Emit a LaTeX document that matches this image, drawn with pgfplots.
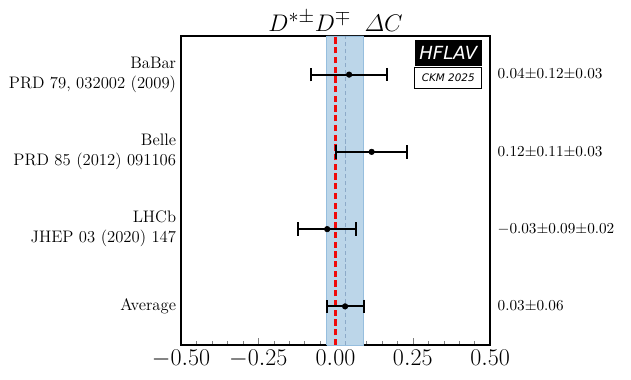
\documentclass[border=0pt]{standalone}
\usepackage{amsmath}
\usepackage{pgfplots}
\pgfplotsset{compat=1.18}
\usepackage{fontspec}
\newfontfamily\dejavu{DejaVu Sans}
\definecolor{bandfill}{RGB}{188,214,233}
\definecolor{bandedge}{RGB}{150,190,222}
\definecolor{avgline}{RGB}{140,170,200}
\definecolor{zeroline}{RGB}{240,10,10}
\begin{document}
\begin{tikzpicture}
\path (0,0) rectangle (454.3pt,272.9pt);
\begin{axis}[
  at={(130.3pt,24.5pt)}, anchor=south west,
  scale only axis, width=222.5pt, height=222.5pt,
  xmin=-0.5, xmax=0.5, ymin=-0.5, ymax=3.5,
  axis line style={line width=0.8pt},
  xtick={-0.5,-0.25,0,0.25,0.5},
  minor x tick num=4,
  xtick pos=bottom, tick align=inside,
  major tick length=5pt, minor tick length=3pt,
  xticklabel style={font=\fontsize{16}{18}\selectfont},
  xticklabel={\pgfmathprintnumber[fixed,fixed zerofill,precision=2]{\tick}},
  ytick={0,1,2,3},
  yticklabels={Average,{LHCb\\JHEP 03 (2020) 147},{Belle\\PRD 85 (2012) 091106},{BaBar\\PRD 79, 032002 (2009)}},
  yticklabel style={align=right,font=\fontsize{12}{14.5}\selectfont},
  ytick style={draw=none},
  title={$D^{*\pm}D^{\mp}\;\;\varDelta C$},
  title style={font=\fontsize{19}{21}\selectfont, yshift=-6pt},
  clip=false,
]
\addplot[fill=bandfill, draw=bandedge, line width=0.6pt] coordinates {(-0.029,-0.5) (0.091,-0.5) (0.091,3.5) (-0.029,3.5) (-0.029,-0.5)};
\addplot[draw=avgline, dash pattern=on 3pt off 2pt, line width=0.8pt, mark=none] coordinates {(0.031,-0.5) (0.031,3.5)};
\addplot[zeroline, line width=2pt, dash pattern=on 4.5pt off 2.5pt, mark=none] coordinates {(0,-0.5) (0,3.5)};
\addplot[black, only marks, mark=*, mark size=2pt,
  error bars/.cd, x dir=both, x explicit,
  error mark=|,
  error bar style={line width=1.5pt, black},
  error mark options={line width=1.5pt, mark size=4.8pt, black}]
  coordinates {
    (0.044,3) +- (0.124,0)
    (0.117,2) +- (0.114,0)
    (-0.027,1) +- (0.094,0)
    (0.031,0) +- (0.060,0)
  };
\node[anchor=west, font=\fontsize{10.6}{12}\selectfont] at (rel axis cs:1,0.875) {\hspace{2pt}$0.04{\pm}0.12{\pm}0.03$};
\node[anchor=west, font=\fontsize{10.6}{12}\selectfont] at (rel axis cs:1,0.625) {\hspace{2pt}$0.12{\pm}0.11{\pm}0.03$};
\node[anchor=west, font=\fontsize{10.6}{12}\selectfont] at (rel axis cs:1,0.375) {\hspace{2pt}$-0.03{\pm}0.09{\pm}0.02$};
\node[anchor=west, font=\fontsize{10.6}{12}\selectfont] at (rel axis cs:1,0.125) {\hspace{2pt}$0.03{\pm}0.06$};
\node[fill=black, text=white, anchor=north east, minimum width=48.2pt, minimum height=18.7pt, inner sep=0pt, font=\dejavu\itshape\fontsize{13}{14}\selectfont] (hf) at (rel axis cs:0.974,0.987) {HFLAV};
\node[draw=black, line width=0.6pt, fill=white, anchor=north, minimum width=48.2pt, minimum height=15.8pt, inner sep=0pt, font=\dejavu\itshape\fontsize{7.5}{9}\selectfont] at (hf.south) {CKM 2025};
\end{axis}
\end{tikzpicture}
\end{document}
